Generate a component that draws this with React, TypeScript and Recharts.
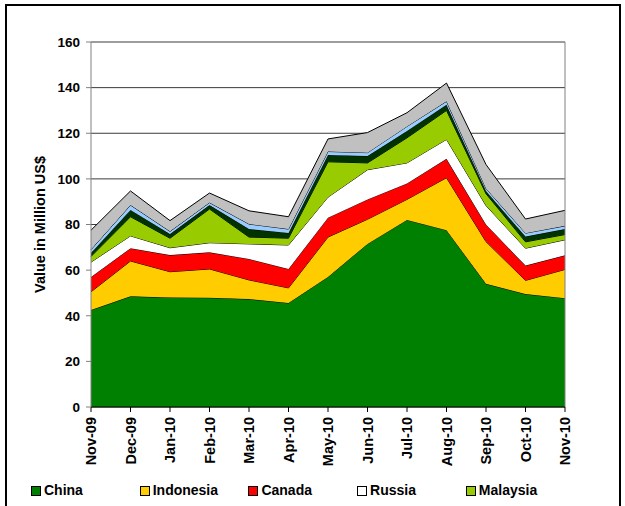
import { AreaChart, Area, XAxis, YAxis, CartesianGrid, ReferenceLine } from "recharts";

const FONT = "'Liberation Sans', Arial, sans-serif";

const months = [
  "Nov-09", "Dec-09", "Jan-10", "Feb-10", "Mar-10", "Apr-10", "May-10",
  "Jun-10", "Jul-10", "Aug-10", "Sep-10", "Oct-10", "Nov-10",
];

// values in million US$
const china = [42.5, 48.5, 48, 47.9, 47.3, 45.6, 57, 71.5, 82, 77.5, 54, 49.5, 47.7];
const indonesia = [8, 15.5, 11.3, 12.6, 8.4, 6.6, 17.5, 10.8, 9, 23, 18.5, 6, 12.6];
const canada = [6.5, 5.6, 7.3, 7.3, 9.2, 8.3, 8.5, 8.7, 7, 8.3, 7.5, 6.5, 6.2];
const russia = [6.5, 5.4, 3.2, 4.2, 6.6, 10.5, 9, 13, 9, 8.5, 8.3, 7.6, 6.8];
const malaysia = [2.5, 8.4, 4.2, 14.8, 3, 3, 15.5, 3, 11, 12.7, 5.2, 2.8, 2.3];
// the last three series are not named in the visible part of the legend
const series6 = [1.5, 3, 1.8, 1.7, 3.5, 2.3, 3, 3, 3, 2.5, 1.2, 2.3, 2.4];
const series7 = [1.5, 2.1, 1.2, 1.1, 2.2, 1.7, 1.5, 1.5, 2, 1.5, 1.1, 1.5, 1.4];
const series8 = [8.5, 6.2, 4.7, 4.2, 5.8, 5.4, 5.5, 8.8, 6, 8, 10.5, 6.2, 6.8];

const yTicks = [0, 20, 40, 60, 80, 100, 120, 140, 160];

const seriesKeys = ["China", "Indonesia", "Canada", "Russia", "Malaysia", "Series 6", "Series 7", "Series 8"];
const seriesValues = [china, indonesia, canada, russia, malaysia, series6, series7, series8];
const colors = ["#008000", "#FFCC00", "#FF0000", "#FFFFFF", "#99CC00", "#003300", "#99CCFF", "#C0C0C0"];

const legendItems = ["China", "Indonesia", "Canada", "Russia", "Malaysia"];

const data = months.map((m, i) => {
  const row: Record<string, number | string> = { month: m };
  seriesKeys.forEach((k, j) => {
    row[k] = seriesValues[j][i];
  });
  return row;
});

function MonthTick({ x, y, payload }: any) {
  return (
    <g transform={`translate(${x},${y})`}>
      <text
        x={0}
        y={0}
        dy={5.2}
        textAnchor="end"
        transform="rotate(-90)"
        fontSize={14.5}
        fontWeight="bold"
        fontFamily={FONT}
        fill="#000"
      >
        {payload.value}
      </text>
    </g>
  );
}

export default function App() {
  return (
    <div style={{ position: "absolute", left: 0, top: 0, width: 625, height: 506, overflow: "hidden", background: "#fff" }}>
      <div
        style={{
          position: "absolute",
          left: 5,
          top: 4,
          width: 612,
          height: 560,
          border: "2px solid #000",
        }}
      />
      <div style={{ position: "absolute", left: 0, top: 0 }}>
        <AreaChart width={625} height={506} data={data} margin={{ top: 42, right: 60, bottom: 0, left: 31 }}>
          <CartesianGrid horizontal vertical={false} stroke="#3a3a3a" strokeWidth={1} />
          <XAxis
            dataKey="month"
            interval={0}
            height={99}
            tick={<MonthTick />}
            tickSize={5}
            tickMargin={5}
            axisLine={{ stroke: "#000" }}
            tickLine={{ stroke: "#000" }}
          />
          <YAxis
            domain={[0, 160]}
            ticks={yTicks}
            width={60}
            tickSize={5}
            tickMargin={6}
            interval={0}
            axisLine={{ stroke: "#808080" }}
            tickLine={{ stroke: "#808080" }}
            tick={{ fontSize: 13.5, fontWeight: "bold", fontFamily: FONT, fill: "#000" }}
            label={{
              value: "Value in Million US$",
              angle: -90,
              position: "insideLeft",
              offset: 9,
              style: { textAnchor: "middle", fontSize: 14.5, fontWeight: "bold", fontFamily: FONT, fill: "#000" },
            }}
          />
          {seriesKeys.map((k, i) => (
            <Area
              key={k}
              type="linear"
              dataKey={k}
              stackId="1"
              stroke="#000"
              strokeWidth={1}
              fill={colors[i]}
              fillOpacity={1}
              isAnimationActive={false}
            />
          ))}
          <ReferenceLine x="Nov-10" stroke="#808080" />
        </AreaChart>
      </div>
      <div style={{ position: "absolute", left: 0, top: 482, width: 625, height: 17 }}>
        {legendItems.map((name, i) => (
          <div
            key={name}
            style={{
              position: "absolute",
              left: 31 + i * 108.7,
              top: 0,
              display: "flex",
              alignItems: "center",
              fontFamily: FONT,
              fontSize: 14,
              fontWeight: "bold",
              lineHeight: "17px",
              color: "#000",
            }}
          >
            <span
              style={{
                display: "inline-block",
                width: 8,
                height: 8,
                background: colors[i],
                border: "1px solid #000",
                marginRight: 3,
              }}
            />
            {name}
          </div>
        ))}
      </div>
    </div>
  );
}
